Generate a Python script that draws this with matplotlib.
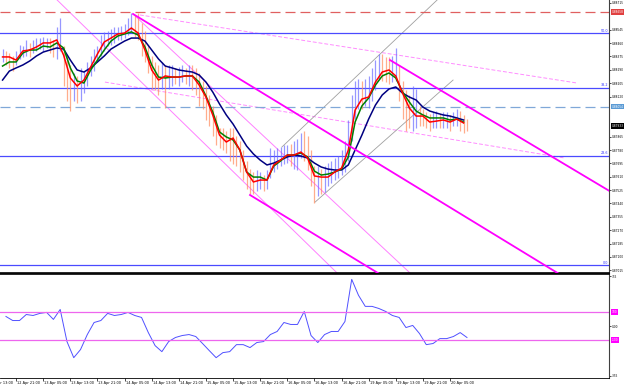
import numpy as np
import matplotlib.pyplot as plt
from matplotlib.transforms import blended_transform_factory as blend

# ---- data (H1 bars, bar index 0 = 12 Apr 13:00) ----
bar_start = 4
bar_high = [0.8842, 0.8841, 0.8840, 0.8838, 0.8841, 0.8845, 0.8844, 0.8848, 0.8846, 0.8848,
            0.8849, 0.8849, 0.8850, 0.8849, 0.8849, 0.8848, 0.8856, 0.8862, 0.8844, 0.8838,
            0.8832, 0.8827, 0.8825, 0.8830, 0.8828, 0.8834, 0.8838, 0.8842, 0.8844, 0.8851,
            0.8853, 0.8854, 0.8855, 0.8856, 0.8856, 0.8857, 0.8858, 0.8862, 0.8865, 0.8864,
            0.8865, 0.8859, 0.8854, 0.8844, 0.8838, 0.8834, 0.8832, 0.8834, 0.8832, 0.8832,
            0.8832, 0.8830, 0.8831, 0.8832, 0.8830, 0.8832, 0.8832, 0.8830, 0.8827, 0.8822,
            0.8819, 0.8813, 0.8806, 0.8800, 0.8792, 0.8792, 0.8790, 0.8792, 0.8792, 0.8787,
            0.8784, 0.8778, 0.8771, 0.8766, 0.8764, 0.8765, 0.8764, 0.8762, 0.8765, 0.8779,
            0.8778, 0.8779, 0.8780, 0.8781, 0.8781, 0.8782, 0.8784, 0.8785, 0.8789, 0.8790,
            0.8787, 0.8778, 0.8768, 0.8768, 0.8766, 0.8768, 0.8770, 0.8771, 0.8773, 0.8774,
            0.8778, 0.8784, 0.8797, 0.8813, 0.8822, 0.8823, 0.8822, 0.8823, 0.8825, 0.8830,
            0.8835, 0.8839, 0.8839, 0.8837, 0.8837, 0.8838, 0.8843, 0.8832, 0.8822, 0.8816,
            0.8813, 0.8819, 0.8817, 0.8806, 0.8804, 0.8802, 0.8801, 0.8802, 0.8803, 0.8801,
            0.8802, 0.8802, 0.8800, 0.8802, 0.8804, 0.8803, 0.8800, 0.8798]
bar_low = [0.8834, 0.8832, 0.8830, 0.8828, 0.8832, 0.8836, 0.8837, 0.8838, 0.8837, 0.8840,
           0.8841, 0.8842, 0.8841, 0.8843, 0.8840, 0.8837, 0.8836, 0.8841, 0.8819, 0.8809,
           0.8803, 0.8809, 0.8808, 0.8809, 0.8814, 0.8819, 0.8825, 0.8828, 0.8834, 0.8838,
           0.8841, 0.8844, 0.8845, 0.8846, 0.8848, 0.8848, 0.8849, 0.8851, 0.8853, 0.8850,
           0.8848, 0.8838, 0.8834, 0.8827, 0.8817, 0.8816, 0.8813, 0.8817, 0.8805, 0.8817,
           0.8819, 0.8820, 0.8819, 0.8821, 0.8820, 0.8819, 0.8816, 0.8813, 0.8806, 0.8804,
           0.8797, 0.8793, 0.8787, 0.8781, 0.8779, 0.8778, 0.8776, 0.8771, 0.8769, 0.8768,
           0.8764, 0.8759, 0.8753, 0.8750, 0.8750, 0.8752, 0.8753, 0.8752, 0.8753, 0.8760,
           0.8764, 0.8766, 0.8768, 0.8769, 0.8770, 0.8768, 0.8766, 0.8765, 0.8773, 0.8771,
           0.8765, 0.8755, 0.8744, 0.8749, 0.8750, 0.8751, 0.8755, 0.8757, 0.8759, 0.8760,
           0.8762, 0.8764, 0.8771, 0.8784, 0.8798, 0.8804, 0.8804, 0.8806, 0.8805, 0.8809,
           0.8816, 0.8823, 0.8822, 0.8821, 0.8820, 0.8821, 0.8822, 0.8809, 0.8798, 0.8790,
           0.8792, 0.8790, 0.8792, 0.8793, 0.8793, 0.8792, 0.8790, 0.8792, 0.8792, 0.8792,
           0.8792, 0.8792, 0.8790, 0.8793, 0.8793, 0.8790, 0.8789, 0.8790]

# moving averages, one value every 2 bars starting at bar 4
ma_start = 4
fast_ma = [0.88372, 0.88372, 0.88352, 0.88410, 0.88416, 0.88435, 0.88461, 0.88461, 0.88480, 0.88384,
           0.88238, 0.88187, 0.88225, 0.88308, 0.88391, 0.88467, 0.88492, 0.88518, 0.88524, 0.88556,
           0.88524, 0.88416, 0.88289, 0.88225, 0.88251, 0.88244, 0.88244, 0.88251, 0.88251, 0.88193,
           0.88117, 0.88003, 0.87875, 0.87831, 0.87856, 0.87780, 0.87640, 0.87577, 0.87589, 0.87589,
           0.87685, 0.87716, 0.87748, 0.87748, 0.87767, 0.87729, 0.87615, 0.87608, 0.87608, 0.87640,
           0.87665, 0.87780, 0.88034, 0.88104, 0.88117, 0.88212, 0.88276, 0.88289, 0.88251, 0.88142,
           0.88047, 0.87996, 0.87996, 0.87958, 0.87964, 0.87971, 0.87958, 0.87977, 0.87952]
mid_ma = [0.88314, 0.88340, 0.88340, 0.88397, 0.88416, 0.88416, 0.88441, 0.88435, 0.88461, 0.88429,
          0.88302, 0.88219, 0.88206, 0.88289, 0.88352, 0.88416, 0.88473, 0.88505, 0.88518, 0.88531,
          0.88511, 0.88435, 0.88321, 0.88244, 0.88238, 0.88244, 0.88244, 0.88251, 0.88251, 0.88212,
          0.88123, 0.88022, 0.87895, 0.87863, 0.87844, 0.87780, 0.87640, 0.87608, 0.87608, 0.87589,
          0.87678, 0.87710, 0.87748, 0.87748, 0.87761, 0.87736, 0.87646, 0.87621, 0.87627, 0.87640,
          0.87659, 0.87736, 0.87958, 0.88060, 0.88111, 0.88193, 0.88251, 0.88270, 0.88238, 0.88149,
          0.88085, 0.88028, 0.88003, 0.87984, 0.87984, 0.87984, 0.87971, 0.87977, 0.87958]
slow_ma = [0.88225, 0.88282, 0.88302, 0.88321, 0.88346, 0.88378, 0.88403, 0.88416, 0.88429, 0.88422,
           0.88352, 0.88289, 0.88276, 0.88302, 0.88340, 0.88378, 0.88422, 0.88448, 0.88473, 0.88492,
           0.88492, 0.88473, 0.88416, 0.88359, 0.88314, 0.88302, 0.88289, 0.88282, 0.88276, 0.88257,
           0.88212, 0.88149, 0.88073, 0.88003, 0.87945, 0.87875, 0.87805, 0.87755, 0.87716, 0.87685,
           0.87697, 0.87716, 0.87736, 0.87748, 0.87742, 0.87729, 0.87697, 0.87672, 0.87659, 0.87653,
           0.87653, 0.87685, 0.87780, 0.87875, 0.87977, 0.88066, 0.88130, 0.88168, 0.88181, 0.88142,
           0.88117, 0.88098, 0.88053, 0.88028, 0.88015, 0.88003, 0.87996, 0.87984, 0.87971]

# CCI, one value every 2 bars starting at bar 5
cci_start = 5
cci = [68, 39, 39, 82, 75, 90, 97, 47, 118, -111,
       -226, -168, -61, 25, 39, 90, 75, 82, 97, 75,
       61, -47, -140, -183, -111, -82, -68, -61, -75, -125,
       -176, -226, -190, -183, -133, -133, -154, -118, -111, -61,
       -39, 25, 11, 11, 104, -68, -118, -61, -39, -39,
       32, 333, 219, 140, 140, 125, 104, 75, 61, -11,
       4, -54, -133, -125, -90, -90, -75, -47, -82]
cci_levels = [100, -100]

# drawn objects: (bar0, price0, bar1, price1)
channel_lines = [(42.5, 0.88645, 183.0, 0.86797),
                 (77.0, 0.87494, 183.0, 0.86100),
                 (118.3, 0.88352, 183.0, 0.87520)]
thin_lines = [(20.1, 0.88734, 102.7, 0.86998),
              (42.5, 0.88645, 124.2, 0.86998)]
dashed_lines = [(34.2, 0.88212, 169.9, 0.87729),
                (44.5, 0.88639, 173.5, 0.88206)]
gray_lines = [(86.4, 0.87799, 132.2, 0.88734),
              (96.2, 0.87449, 136.9, 0.88225)]

fib_names = ['50.0', '38.2', '23.6', '0.0']
fib_prices = [0.88524, 0.88176, 0.87745, 0.87049]
red_level = 0.88658
blue_level = 0.88054
last_price = 0.87933

price_ticks = [0.87015, 0.87100, 0.87185, 0.87270, 0.87355, 0.87440, 0.87525, 0.87610,
               0.87695, 0.87780, 0.87865, 0.88120, 0.88205, 0.88290, 0.88375,
               0.88460, 0.88545, 0.88715]
label_bars = [0, 8, 16, 24, 32, 40, 48, 56, 64, 72, 80, 88, 96, 104, 112, 120, 128, 136]
time_labels = ['12 Apr 13:00', '12 Apr 21:00', '13 Apr 05:00', '13 Apr 13:00', '13 Apr 21:00',
               '14 Apr 05:00', '14 Apr 13:00', '14 Apr 21:00', '15 Apr 05:00', '15 Apr 13:00',
               '15 Apr 21:00', '16 Apr 05:00', '16 Apr 13:00', '16 Apr 21:00', '19 Apr 05:00',
               '19 Apr 13:00', '19 Apr 21:00', '20 Apr 05:00']

W, H = 625, 388
fig = plt.figure(figsize=(W / 100, H / 100), dpi=100)
ax = fig.add_axes([0, (H - 273) / H, 609 / W, 273 / H])
ax2 = fig.add_axes([0, (H - 378) / H, 609 / W, 104 / H])
XL = (3.245, 182.9)
FS = 2.1

# ---- main pane ----
hi = np.array(bar_high)
lo = np.array(bar_low)
xs = np.arange(bar_start, bar_start + len(hi))
mid = (hi + lo) / 2
up = np.concatenate([[True], mid[1:] >= mid[:-1]])
cols = np.where(up, '#6b6bff', '#ff8a5c')
ax.vlines(xs, lo, hi, colors=cols, lw=0.9, alpha=0.7, zorder=2)

mx = np.arange(ma_start, ma_start + 2 * len(fast_ma), 2)
ax.plot(mx, slow_ma, color='#000080', lw=1.1, zorder=3)
ax.plot(mx, mid_ma, color='#008000', lw=1.1, zorder=4)
ax.plot(mx, fast_ma, color='#ff0000', lw=1.1, zorder=5)

for b0, p0, b1, p1 in channel_lines:
    ax.plot([b0, b1], [p0, p1], color='#ff00ff', lw=1.3, zorder=6)
for b0, p0, b1, p1 in thin_lines:
    ax.plot([b0, b1], [p0, p1], color='#ff80ff', lw=0.7, zorder=1)
for b0, p0, b1, p1 in dashed_lines:
    ax.plot([b0, b1], [p0, p1], color='#ff8cff', lw=0.7, dashes=(4, 2), zorder=1)
for b0, p0, b1, p1 in gray_lines:
    ax.plot([b0, b1], [p0, p1], color='#a0a0a0', lw=0.6, zorder=1)

tr = blend(ax.transAxes, ax.transData)
for name, p in zip(fib_names, fib_prices):
    ax.axhline(p, color='#4a4aff', lw=0.9, zorder=1)
    ax.text(0.998, p + 0.00003, name, transform=tr, ha='right', va='bottom',
            fontsize=2.4, color='#3030ff')
ax.axhline(red_level, color='#e06060', lw=0.9, dashes=(8, 4), zorder=1)
ax.axhline(blue_level, color='#80a8d8', lw=0.9, dashes=(8, 4), zorder=1)

ax.set_xlim(*XL)
ax.set_ylim(0.86998, 0.88734)
ax.yaxis.tick_right()
ax.set_yticks(price_ticks)
ax.set_yticklabels(['%.5f' % v for v in price_ticks])
ax.tick_params(axis='y', labelsize=FS, length=1.5, width=0.5, pad=0.4)
ax.set_xticks([])
for s in ['left', 'top']:
    ax.spines[s].set_visible(False)
ax.spines['right'].set_color('#404040')
ax.spines['right'].set_linewidth(0.8)
ax.spines['bottom'].set_linewidth(1.2)

for p, fc in [(red_level, '#e04040'), (blue_level, '#5b9bd5'), (last_price, '#000000')]:
    ax.text(1.004, p, '%.5f' % p, transform=tr, ha='left', va='center', fontsize=FS,
            color='white', clip_on=False,
            bbox=dict(facecolor=fc, edgecolor='none', pad=0.4))

# ---- CCI pane ----
cx = np.arange(cci_start, cci_start + 2 * len(cci), 2)
ax2.plot(cx, cci, color='#5050ff', lw=0.7)
tr2 = blend(ax2.transAxes, ax2.transData)
for lv in cci_levels:
    ax2.axhline(lv, color='#ee66ee', lw=0.9)
    ax2.text(1.004, lv, '%d' % lv, transform=tr2, ha='left', va='center', fontsize=FS,
             color='white', clip_on=False,
             bbox=dict(facecolor='#ff00ff', edgecolor='none', pad=0.4))
ax2.set_xlim(*XL)
ax2.set_ylim(-371, 371)
ax2.yaxis.tick_right()
ax2.set_yticks([355, 0, -355])
ax2.set_yticklabels(['355', '0.00', '-355'])
ax2.tick_params(axis='y', labelsize=FS, length=1.5, width=0.5, pad=0.4)
ax2.set_xticks([b for b in label_bars if XL[0] < b < XL[1]])
ax2.set_xticklabels([])
ax2.tick_params(axis='x', length=2, width=0.5)
ax2.spines['left'].set_visible(False)
ax2.spines['top'].set_linewidth(1.2)
ax2.spines['right'].set_color('#404040')
ax2.spines['right'].set_linewidth(0.8)
ax2.spines['bottom'].set_linewidth(0.6)

trx = blend(ax2.transData, ax2.transAxes)
for b, t in zip(label_bars, time_labels):
    ax2.text(b + 0.3, -0.03, t, transform=trx, ha='left', va='top', fontsize=2.5,
             color='black', clip_on=False)

fig.savefig('out.png', dpi=100)
